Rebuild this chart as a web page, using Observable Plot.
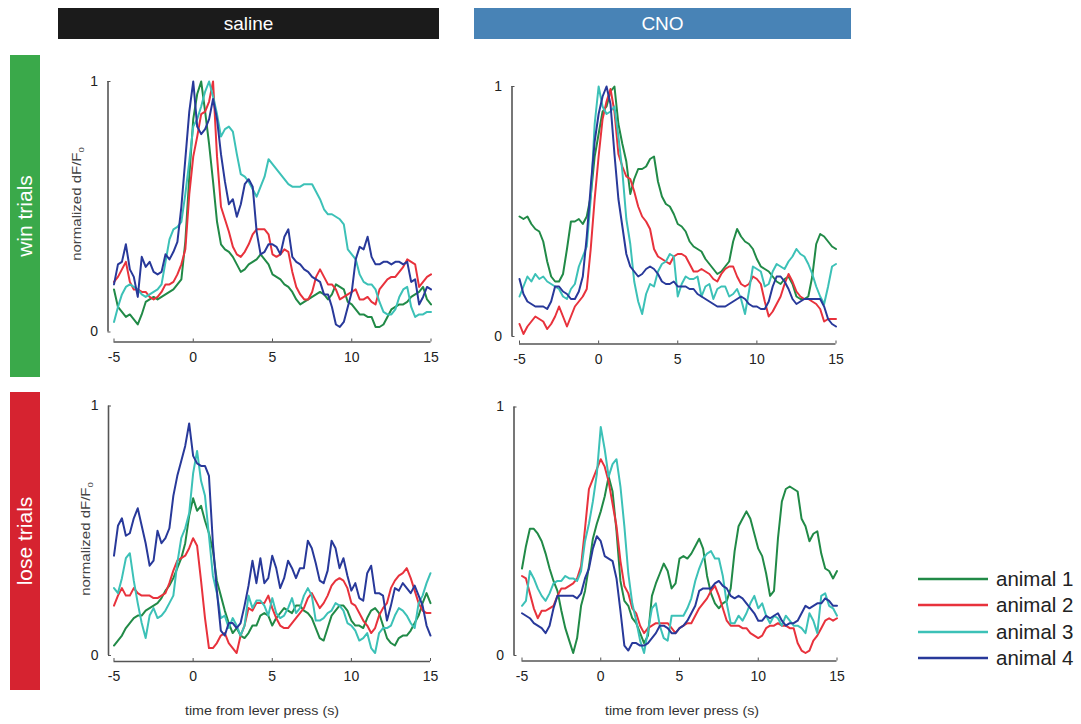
<!DOCTYPE html>
<html><head><meta charset="utf-8">
<script src="https://cdn.jsdelivr.net/npm/d3@7"></script>
<script src="https://cdn.jsdelivr.net/npm/@observablehq/plot@0.6"></script>
<style>
body{margin:0;background:#fff;font-family:"Liberation Sans",Arial,sans-serif;}
#root{position:relative;width:1081px;height:724px;overflow:hidden;background:#fff;}
.bar{position:absolute;color:#fff;display:flex;align-items:center;justify-content:center;}
.rot{position:absolute;white-space:nowrap;}
</style></head><body><div id="root"></div>
<script>
// ---------------- data ----------------
const time = d3.range(81).map(i => -5 + i * 0.25);   // sample times (s)
const animals = ["animal 1", "animal 2", "animal 3", "animal 4"];
const animalColors = ["#218a47", "#e8323c", "#3cc1b7", "#28399a"];
const xTicks = [-5, 0, 5, 10, 15];
const yTicks = [0, 1];
const conditions = ["saline", "CNO"];
const trialTypes = ["win trials", "lose trials"];
const yLabelText = "normalized dF/F";
const xLabelText = "time from lever press (s)";

// win trials, saline
const winSaline1 = [.17,.10,.08,.06,.07,.05,.03,.07,.12, .13,.14,.13,.14,.15,.16,.17,.19,.21, .36,.62,.85,.95,1.0,.88,.75,.60,.44, .35,.33,.32,.30,.27,.24,.25,.27,.28, .29,.31,.29,.27,.23,.22,.21,.19,.18, .16,.13,.11,.12,.13,.14,.15,.16,.15, .13,.15,.19,.18,.17,.12,.11,.09,.07, .07,.06,.06,.02,.02,.03,.06,.09,.10, .11,.11,.12,.14,.15,.16,.18,.13,.11];
const winSaline2 = [.20,.22,.25,.28,.20,.17,.17,.16,.16, .14,.13,.14,.16,.19,.19,.20,.23,.27, .33,.55,.70,.78,.87,.88,.92,1.0,.70, .50,.45,.40,.34,.31,.30,.32,.35,.39, .41,.41,.41,.39,.31,.30,.31,.33,.32, .24,.18,.15,.13,.13,.16,.22,.25,.22, .19,.19,.17,.13,.14,.15,.16,.17,.13, .13,.14,.12,.11,.17,.19,.21,.22,.22, .24,.26,.29,.28,.27,.18,.20,.22,.23];
const winSaline3 = [.04,.10,.15,.18,.19,.18,.17,.15,.14, .15,.16,.17,.19,.28,.37,.41,.42,.44, .55,.68,.82,.85,.90,.96,1.0,.94,.87, .78,.81,.82,.80,.71,.63,.62,.60,.57, .54,.58,.62,.69,.67,.65,.63,.61,.59, .58,.58,.58,.59,.59,.59,.56,.53,.49, .47,.47,.46,.45,.43,.33,.31,.29,.23, .20,.19,.19,.17,.12,.08,.07,.07,.09, .14,.17,.18,.10,.06,.07,.07,.08,.08];
const winSaline4 = [.19,.27,.28,.35,.25,.22,.14,.30,.26, .28,.24,.23,.24,.31,.29,.32,.36,.50, .69,.88,1.0,.82,.79,.81,.85,.93,.85, .71,.60,.51,.53,.46,.51,.59,.61,.58, .40,.31,.32,.35,.35,.34,.31,.38,.41, .30,.28,.27,.25,.24,.22,.21,.20,.15, .15,.10,.03,.02,.04,.10,.16,.29,.34, .33,.38,.30,.27,.27,.28,.28,.27,.28, .28,.27,.28,.20,.21,.11,.14,.18,.17];
// win trials, CNO
const winCNO1 = [.48,.47,.48,.45,.43,.42,.38,.30,.24, .22,.22,.25,.35,.46,.46,.47,.45,.48, .56,.72,.81,.90,.92,.98,1.0,.85,.77, .70,.57,.63,.67,.67,.68,.71,.72,.62, .56,.53,.52,.49,.45,.44,.42,.38,.36, .35,.34,.31,.29,.27,.25,.26,.28,.30, .38,.43,.40,.38,.37,.35,.31,.28,.27, .26,.24,.22,.21,.23,.24,.21,.16,.15, .15,.16,.24,.37,.41,.40,.38,.36,.35];
const winCNO2 = [.05,.01,.04,.06,.08,.07,.06,.03,.05, .08,.12,.08,.04,.08,.12,.14,.16,.19, .35,.55,.72,.87,.94,.99,.90,.73,.68, .64,.63,.58,.52,.48,.46,.43,.35,.32, .31,.30,.29,.32,.33,.33,.32,.29,.26, .26,.27,.26,.25,.23,.22,.25,.27,.28, .28,.24,.21,.20,.21,.24,.23,.21,.14, .08,.10,.13,.16,.21,.25,.22,.18,.16, .15,.15,.14,.13,.11,.06,.07,.07,.07];
const winCNO3 = [.16,.20,.24,.22,.25,.23,.24,.22,.21, .20,.19,.16,.15,.19,.21,.28,.32,.36, .55,.85,1.0,.92,.89,.90,.92,.80,.66, .47,.37,.22,.14,.09,.17,.21,.20,.26, .29,.30,.33,.32,.16,.21,.24,.23,.23, .24,.16,.20,.21,.15,.19,.20,.20,.16, .17,.19,.15,.09,.18,.28,.27,.26,.20, .21,.26,.29,.28,.27,.30,.32,.35,.33, .32,.29,.25,.20,.16,.13,.20,.28,.29];
const winCNO4 = [.23,.17,.14,.13,.12,.12,.12,.11,.14, .20,.20,.18,.17,.15,.15,.18,.24,.40, .60,.78,.89,.96,1.0,.93,.73,.55,.44, .33,.28,.26,.24,.25,.27,.28,.27,.25, .22,.21,.21,.22,.20,.20,.20,.19,.19, .17,.16,.15,.14,.13,.12,.12,.12,.13, .14,.15,.16,.15,.13,.12,.12,.11,.11, .14,.20,.24,.24,.22,.19,.15,.13,.14, .15,.15,.15,.15,.15,.12,.07,.05,.04];
// lose trials, saline
const loseSaline1 = [.04,.06,.08,.11,.13,.15,.16,.16,.18, .19,.20,.21,.23,.26,.28,.31,.35,.39, .45,.56,.63,.58,.60,.54,.49,.42,.30, .24,.18,.13,.09,.11,.08,.07,.09,.12, .12,.16,.17,.16,.12,.15,.17,.19,.18, .17,.20,.20,.18,.17,.15,.11,.07,.06, .11,.16,.18,.20,.20,.18,.14,.12,.12, .11,.15,.18,.19,.17,.12,.07,.05,.04, .07,.08,.08,.10,.13,.16,.21,.25,.21];
const loseSaline2 = [.20,.24,.27,.24,.24,.27,.25,.24,.24, .24,.23,.23,.24,.25,.29,.34,.38,.39, .40,.43,.47,.44,.30,.15,.03,.03,.05, .08,.09,.05,.03,.01,.08,.12,.19,.18, .21,.21,.21,.24,.19,.15,.12,.11,.11, .13,.15,.17,.19,.23,.25,.22,.19,.21, .24,.28,.30,.31,.30,.27,.21,.20,.17, .14,.12,.09,.11,.16,.19,.21,.27,.30, .32,.33,.35,.31,.26,.21,.18,.17,.17];
const loseSaline3 = [.27,.25,.31,.39,.41,.30,.21,.13,.07, .16,.19,.15,.16,.18,.21,.24,.37,.47, .51,.57,.73,.82,.70,.64,.48,.32,.25, .15,.16,.11,.15,.12,.08,.12,.24,.19, .22,.22,.20,.16,.23,.17,.15,.16,.19, .23,.17,.19,.24,.27,.24,.14,.14,.15, .17,.18,.21,.20,.18,.13,.12,.10,.06, .07,.09,.03,.01,.09,.11,.11,.12,.16, .19,.18,.16,.13,.11,.21,.24,.29,.33];
const loseSaline4 = [.40,.52,.55,.48,.49,.55,.59,.52,.45, .36,.38,.50,.45,.47,.51,.64,.72,.78, .84,.93,.80,.77,.76,.76,.72,.45,.26, .10,.08,.13,.13,.11,.13,.20,.28,.38, .29,.39,.29,.31,.40,.35,.27,.31,.38, .35,.31,.35,.35,.46,.43,.37,.30,.29, .34,.46,.43,.35,.39,.32,.26,.29,.23, .22,.33,.36,.25,.25,.24,.14,.20,.27, .26,.29,.27,.25,.28,.24,.20,.12,.08];
// lose trials, CNO
const loseCNO1 = [.35,.44,.51,.51,.49,.46,.41,.35,.30, .26,.18,.11,.06,.01,.07,.20,.26,.36, .47,.53,.58,.64,.72,.66,.50,.30,.22, .20,.15,.13,.09,.05,.08,.24,.29,.33, .37,.34,.27,.29,.39,.40,.39,.41,.44, .47,.43,.32,.25,.21,.19,.21,.22,.27, .42,.52,.55,.58,.55,.49,.43,.40,.33, .24,.26,.47,.62,.67,.68,.67,.66,.55, .52,.46,.49,.50,.41,.35,.34,.31,.34];
const loseCNO2 = [.32,.31,.25,.19,.15,.18,.18,.19,.20, .24,.27,.27,.28,.29,.31,.36,.51,.67, .71,.75,.79,.76,.70,.61,.52,.38,.28, .25,.19,.17,.12,.09,.11,.12,.13,.13, .13,.13,.11,.09,.11,.12,.13,.13,.16, .19,.21,.23,.26,.28,.24,.19,.14,.12, .12,.12,.11,.11,.09,.08,.07,.08,.11, .12,.12,.13,.12,.12,.11,.11,.05,.02, .01,.02,.06,.08,.11,.14,.15,.14,.15];
const loseCNO3 = [.20,.22,.34,.31,.27,.24,.22,.25,.29, .30,.30,.32,.31,.31,.30,.34,.46,.53, .62,.73,.92,.83,.72,.77,.79,.68,.52, .33,.21,.14,.06,.01,.10,.19,.21,.12, .07,.06,.16,.16,.16,.16,.19,.23,.30, .35,.39,.41,.42,.39,.39,.32,.21,.13, .13,.16,.14,.17,.21,.24,.19,.21,.16, .13,.16,.15,.12,.16,.14,.12,.12,.11, .09,.17,.14,.09,.24,.25,.20,.19,.16];
const loseCNO4 = [.17,.16,.15,.13,.12,.11,.09,.12,.19, .24,.24,.24,.24,.24,.23,.25,.31,.35, .43,.48,.46,.40,.39,.38,.31,.18,.04, .02,.05,.05,.04,.04,.05,.07,.09,.12, .12,.11,.09,.09,.11,.12,.14,.17,.20, .26,.27,.27,.27,.29,.30,.28,.27,.24, .23,.24,.23,.21,.19,.17,.14,.14,.16, .15,.16,.17,.14,.12,.13,.13,.14,.17, .20,.19,.20,.21,.21,.23,.22,.20,.20];

// ---------------- layout ----------------
const root = document.getElementById("root");

function addBar(text, l, t, w, h, bg, fs, vertical) {
  const d = document.createElement("div");
  d.className = "bar";
  Object.assign(d.style, {left: l + "px", top: t + "px", width: w + "px", height: h + "px", background: bg});
  const s = document.createElement("span");
  s.textContent = text;
  s.style.fontSize = fs + "px";
  s.style.whiteSpace = "nowrap";
  if (vertical) s.style.transform = "rotate(-90deg)";
  d.appendChild(s);
  root.appendChild(d);
}
addBar(conditions[0], 58, 8, 381, 31, "#1b1b1b", 19, false);
addBar(conditions[1], 474, 8, 377, 31, "#4883b6", 19, false);
addBar(trialTypes[0], 10, 55, 30, 322, "#3aa94a", 21, true);
addBar(trialTypes[1], 10, 392, 30, 298, "#d62330", 21, true);

function rotLabel(cx, cy) {
  const d = document.createElement("div");
  d.className = "rot";
  d.innerHTML = yLabelText + "<sub style='font-size:8px'>0</sub>";
  Object.assign(d.style, {left: cx + "px", top: cy + "px", fontSize: "12.5px", color: "#444",
    transform: "translate(-50%,-50%) rotate(-90deg) scaleX(1.2)"});
  root.appendChild(d);
}
function xLabel(cx, cy) {
  const d = document.createElement("div");
  d.className = "rot";
  d.textContent = xLabelText;
  Object.assign(d.style, {left: cx + "px", top: cy + "px", fontSize: "13px", color: "#333",
    transform: "translate(-50%,-50%) scaleX(1.1)"});
  root.appendChild(d);
}

const panels = [
  {series: [winSaline1, winSaline2, winSaline3, winSaline4], left: 50, top: 60, w: 400, h: 320,
   x0: 113.5, x1: 430.5, y0: 331.5, y1: 81, ax: 107.5, ay: 341.5},
  {series: [winCNO1, winCNO2, winCNO3, winCNO4], left: 455, top: 60, w: 400, h: 320,
   x0: 519, x1: 835.5, y0: 336, y1: 86, ax: 511.5, ay: 343.5},
  {series: [loseSaline1, loseSaline2, loseSaline3, loseSaline4], left: 50, top: 385, w: 400, h: 315,
   x0: 113.5, x1: 430, y0: 655, y1: 405.5, ax: 108, ay: 661},
  {series: [loseCNO1, loseCNO2, loseCNO3, loseCNO4], left: 455, top: 385, w: 400, h: 315,
   x0: 521.5, x1: 836.5, y0: 655, y1: 406.5, ax: 513.5, ay: 660.5}
];

for (const p of panels) {
  const data = p.series.flatMap((vals, k) => vals.map((v, i) => ({t: time[i], v, animal: animals[k]})));
  const svg = Plot.plot({
    width: p.w, height: p.h,
    marginLeft: p.ax - p.left, marginTop: 5, marginRight: 5,
    marginBottom: p.top + p.h - p.ay,
    x: {domain: [-5, 15], range: [p.x0 - p.left, p.x1 - p.left]},
    y: {domain: [0, 1], range: [p.y0 - p.top, p.y1 - p.top]},
    color: {domain: animals, range: animalColors},
    style: {fontFamily: "'Liberation Sans', Arial, sans-serif", fontSize: "14px", color: "#222", background: "transparent", overflow: "visible"},
    marks: [
      Plot.ruleY([0], {x1: -5, x2: 15, dy: p.ay - p.y0, stroke: "#555", strokeWidth: 1.6}),
      Plot.ruleX([-5], {y1: 0, y2: 1, dx: p.ax - p.x0, stroke: "#555", strokeWidth: 1.6}),
      Plot.axisX({ticks: xTicks, tickSize: -3, tickPadding: 13, label: null, stroke: "#555", fill: "#222",
                  tickFormat: d => (d < 0 ? "-" : "") + Math.abs(d)}),
      Plot.axisY({ticks: yTicks, tickSize: -3, tickPadding: 13, label: null, stroke: "#555", fill: "#222",
                  tickFormat: d => String(d)}),
      Plot.line(data, {x: "t", y: "v", z: "animal", stroke: "animal", strokeWidth: 2, strokeLinejoin: "round"})
    ]
  });
  svg.style.position = "absolute";
  svg.style.left = p.left + "px";
  svg.style.top = p.top + "px";
  root.appendChild(svg);
}

rotLabel(77.5, 204);
rotLabel(87, 539);
xLabel(262, 710);
xLabel(682, 710);

// legend
const legend = document.createElement("div");
Object.assign(legend.style, {position: "absolute", left: "916px", top: "566px"});
animals.forEach((a, k) => {
  const row = document.createElement("div");
  Object.assign(row.style, {display: "flex", alignItems: "center", height: "26.3px"});
  row.innerHTML = `<svg width="74" height="10"><line x1="2" x2="72" y1="5" y2="5" stroke="${animalColors[k]}" stroke-width="2.5"/></svg>` +
    `<span style="font-size:20.5px;color:#222;margin-left:6px;white-space:nowrap">${a}</span>`;
  legend.appendChild(row);
});
root.appendChild(legend);
</script>
</body></html>
